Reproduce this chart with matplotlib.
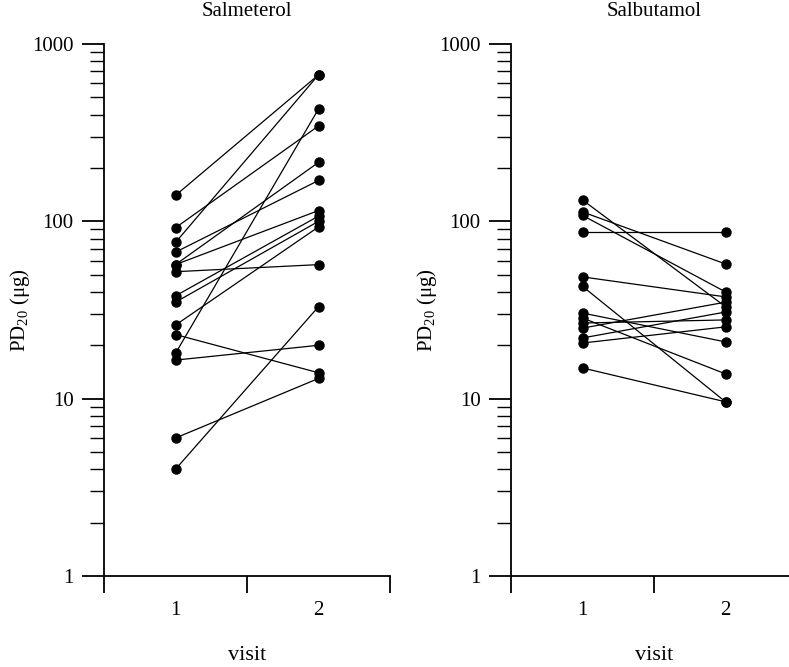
import matplotlib
matplotlib.use("Agg")
import matplotlib.pyplot as plt
from matplotlib.ticker import LogLocator, NullFormatter, FixedLocator, FixedFormatter

plt.rcParams['font.family'] = ['Liberation Serif', 'DejaVu Serif']
plt.rcParams['mathtext.fontset'] = 'custom'
plt.rcParams['mathtext.rm'] = 'Liberation Serif'
plt.rcParams['mathtext.it'] = 'Liberation Serif:italic'

# PD20 values (µg) per subject: visit 1 and visit 2
salmeterol_v1 = [140, 92, 76, 67, 57, 57, 52, 38, 35, 26, 23, 18, 16.5, 6, 4]
salmeterol_v2 = [670, 345, 670, 170, 215, 115, 57, 107, 100, 93, 14, 430, 20, 13, 33]

salbutamol_v1 = [132, 113, 108, 87, 48.6, 43, 30.4, 28.5, 26.7, 25, 22, 20.6, 14.9]
salbutamol_v2 = [33, 57.5, 40, 87, 37.5, 9.6, 20.9, 13.8, 27.8, 35, 30.8, 25.4, 9.6]

titles = ["Salmeterol", "Salbutamol"]
visits = [1, 2]
ytick_values = [1, 10, 100, 1000]
ytick_labels = ["1", "10", "100", "1000"]

W, H = 789, 667
fig = plt.figure(figsize=(W / 100, H / 100), dpi=100)

panels = [
    (104, salmeterol_v1, salmeterol_v2, titles[0]),
    (511, salbutamol_v1, salbutamol_v2, titles[1]),
]

for left_px, v1, v2, title in panels:
    ax = fig.add_axes([left_px / W, (H - 576) / H, 286 / W, 532 / H])
    for a, b in zip(v1, v2):
        ax.plot(visits, [a, b], color='black', lw=0.9, marker='o',
                ms=6.5, mfc='black', mec='black', solid_capstyle='round')
    ax.set_yscale('log')
    ax.set_ylim(1, 1000)
    ax.set_xlim(0.5, 2.5)

    for s in ['top', 'right']:
        ax.spines[s].set_visible(False)
    ax.spines['left'].set_linewidth(1.3)
    ax.spines['bottom'].set_linewidth(1.3)

    # y axis: outward log ticks
    ax.yaxis.set_major_locator(FixedLocator(ytick_values))
    ax.yaxis.set_major_formatter(FixedFormatter(ytick_labels))
    ax.yaxis.set_minor_locator(LogLocator(base=10, subs=range(2, 10)))
    ax.yaxis.set_minor_formatter(NullFormatter())
    ax.tick_params(axis='y', which='major', direction='out', length=16,
                   width=1.3, pad=6, labelsize=15)
    ax.tick_params(axis='y', which='minor', direction='out', length=10,
                   width=1.0)

    # x axis: ticks between visits, labels under visits
    ax.xaxis.set_major_locator(FixedLocator([0.5, 1.5, 2.5]))
    ax.xaxis.set_major_formatter(NullFormatter())
    ax.xaxis.set_minor_locator(FixedLocator(visits))
    ax.xaxis.set_minor_formatter(FixedFormatter([str(v) for v in visits]))
    ax.tick_params(axis='x', which='major', direction='out', length=12,
                   width=1.3)
    ax.tick_params(axis='x', which='minor', length=0, pad=18, labelsize=15)

    ax.set_xlabel("visit", fontsize=16, labelpad=19)
    ax.set_ylabel("PD$_{20}$ (μg)", fontsize=15, labelpad=0)
    ax.set_title(title, fontsize=15, pad=20)
    ax.set_facecolor('none')

fig.savefig("out.png", dpi=100, facecolor='white')
